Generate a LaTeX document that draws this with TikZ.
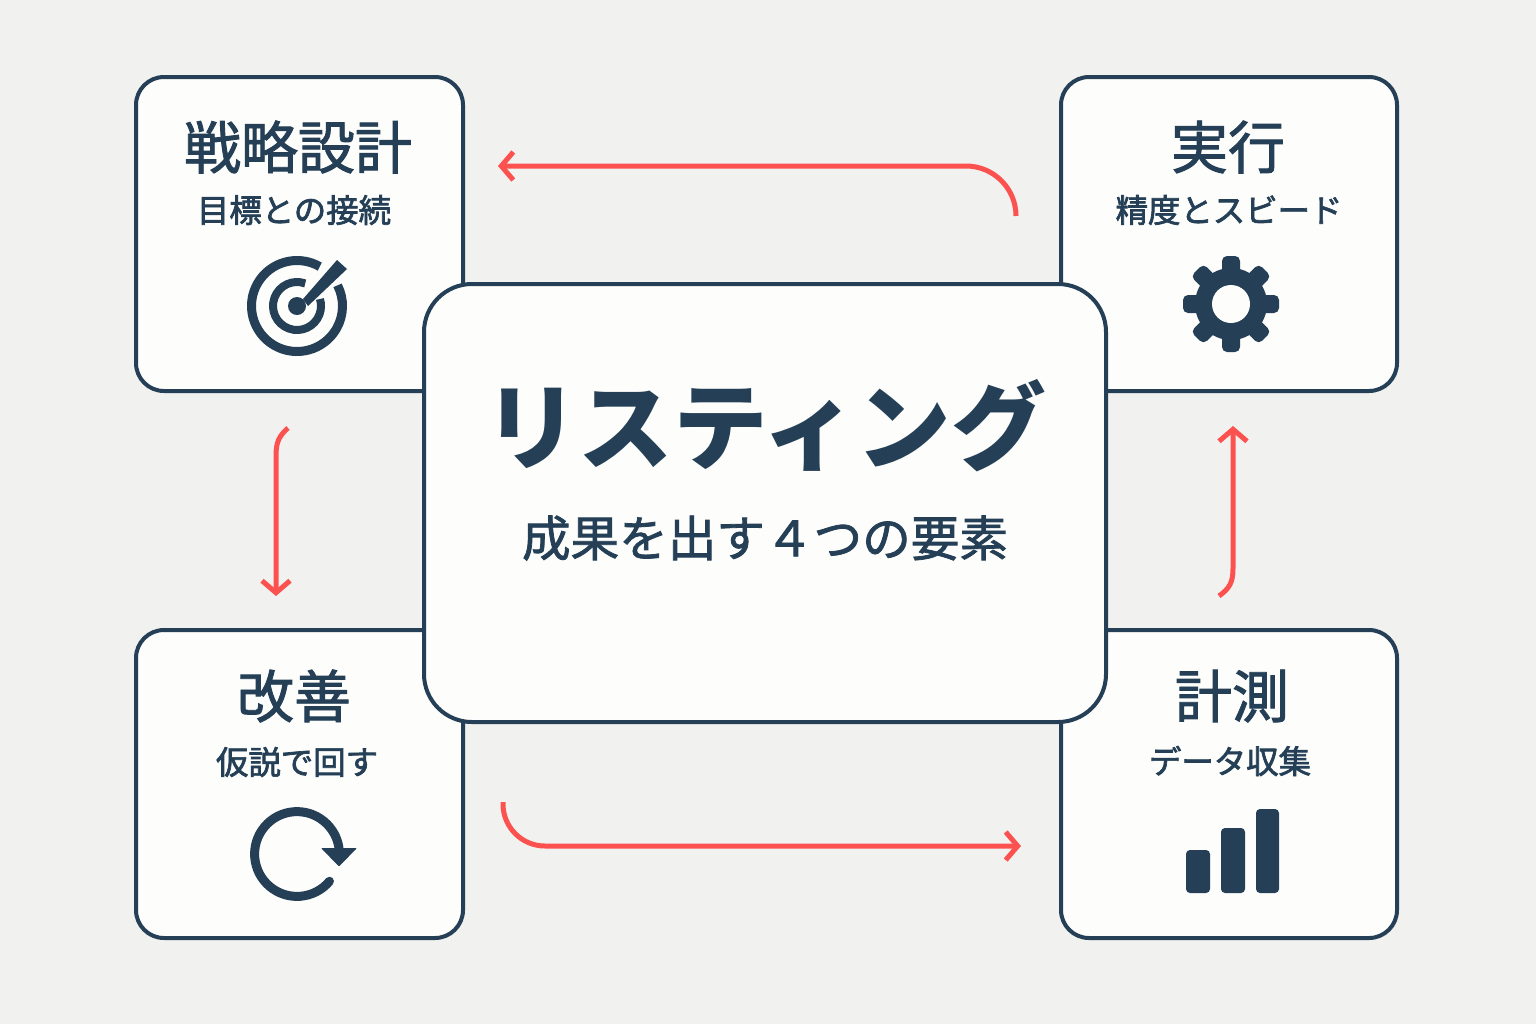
\documentclass[tikz,border=0pt]{standalone}
\usepackage{fontspec}
\usetikzlibrary{arrows.meta}
\newfontfamily\cjk{Noto Sans CJK JP}
\newfontfamily\cjkmed[FakeBold=1.6]{Noto Sans CJK JP}
\newfontfamily\cjksub[FakeBold=2.2]{Noto Sans CJK JP}
\definecolor{navy}{HTML}{243F56}
\definecolor{flowred}{HTML}{FB5250}
\definecolor{paper}{HTML}{F1F1EF}
\definecolor{card}{HTML}{FDFDFB}
\tikzset{
    cardbox/.style={draw=navy,fill=card,line width=2pt,rounded corners=14pt,inner sep=0pt},
    hubbox/.style={draw=navy,fill=card,line width=2pt,rounded corners=24pt,inner sep=0pt,minimum width=341pt,minimum height=219pt},
    title/.style={text=navy,font=\cjkmed\fontsize{28.5}{30}\selectfont,inner sep=0pt},
    subtitle/.style={text=navy,font=\cjksub\fontsize{16.2}{18}\selectfont,inner sep=0pt},
    flow/.style={draw=flowred,line width=2.5pt,-{Straight Barb[length=6pt,width=14pt,line width=2.5pt]}},
    ring/.style={draw=navy,line width=4.5pt}
}
\begin{document}
\begin{tikzpicture}[x=0.5pt,y=-0.5pt]
    \fill[paper] (0,0) rectangle (1536,1024);
    \useasboundingbox (0,0) rectangle (1536,1024);

    \node[cardbox,minimum width=163.5pt,minimum height=157pt] at (299.5,234) (strategy) {};
    \node[cardbox,minimum width=168pt,minimum height=157pt] at (1229,234) (execute) {};
    \node[cardbox,minimum width=163.5pt,minimum height=154pt] at (299.5,784) (improve) {};
    \node[cardbox,minimum width=168pt,minimum height=154pt] at (1229,784) (measure) {};
    \node[hubbox] at (765,503) (hub) {};

    \node[title] at (298,147) (t1) {戦略設計};
    \node[subtitle] at (294,210) (s1) {目標との接続};
    \node[title] at (1228,147) (t2) {実行};
    \node[subtitle] at (1229,210) (s2) {精度とスビード};
    \node[title] at (294,696) (t3) {改善};
    \node[subtitle] at (297,762) (s3) {仮説で回す};
    \node[title] at (1232,696) (t4) {計測};
    \node[subtitle] at (1230,761) (s4) {データ収集};

    \node[text=navy,font=\cjk\bfseries\fontsize{47.3}{50}\selectfont,inner sep=0pt] at (765,426) (name) {リスティング};
    \node[text=navy,font=\cjkmed\fontsize{24.3}{26}\selectfont,inner sep=0pt] at (765,538) (tagline) {成果を出す４つの要素};

    % arrows round the hub
    \coordinate (a1) at (1016,216);
    \coordinate (a2) at (498,166);
    \coordinate (b1) at (288,428);
    \coordinate (b2) at (276,596);
    \coordinate (c1) at (503,802);
    \coordinate (c2) at (1021,846);
    \coordinate (d1) at (1219,596);
    \coordinate (d2) at (1233,426);
    \draw[flow,rounded corners=25pt] (a1) |- (a2);
    \draw[flow] (b1) .. controls (279,436) and (276,442) .. (276,456) -- (b2);
    \draw[flow,rounded corners=21pt] (c1) |- (c2);
    \draw[flow] (d1) .. controls (1230,588) and (1233,582) .. (1233,568) -- (d2);

    % target
    \begin{scope}[shift={(297,306)},x=0.5pt,y=0.5pt]
        \draw[ring] (60:22.75pt) arc[start angle=60,end angle=387,radius=22.75pt];
        \draw[ring,line width=4pt] (70:12pt) arc[start angle=70,end angle=377,radius=12pt];
        \fill[navy] (0,0) circle (4.5pt);
        \fill[navy] (6,7) -- (40,46) -- (50,37) -- (11,0) -- cycle;
    \end{scope}

    % gear
    \begin{scope}[shift={(1231,304)},x=0.5pt,y=0.5pt]
        \fill[navy] (0,0) circle (18pt);
        \foreach \a in {0,45,...,315}
            \fill[navy,rotate=\a,rounded corners=2.5pt] (-9,25) rectangle (9,48);
        \fill[card] (0,0) circle (9.5pt);
    \end{scope}

    % cycle
    \begin{scope}[shift={(297,854)},x=0.5pt,y=0.5pt]
        \draw[ring,line cap=round] (-40:21.2pt) arc[start angle=-40,end angle=-352,radius=21.2pt];
        \fill[navy,rounded corners=0.5pt] (24,6) -- (60,6) -- (42,-12.5) -- cycle;
    \end{scope}

    % bars
    \fill[navy,rounded corners=2pt] (1186,850) rectangle (1210,893);
    \fill[navy,rounded corners=2pt] (1221,828) rectangle (1245,893);
    \fill[navy,rounded corners=2pt] (1256,809) rectangle (1279,893);
\end{tikzpicture}
\end{document}
